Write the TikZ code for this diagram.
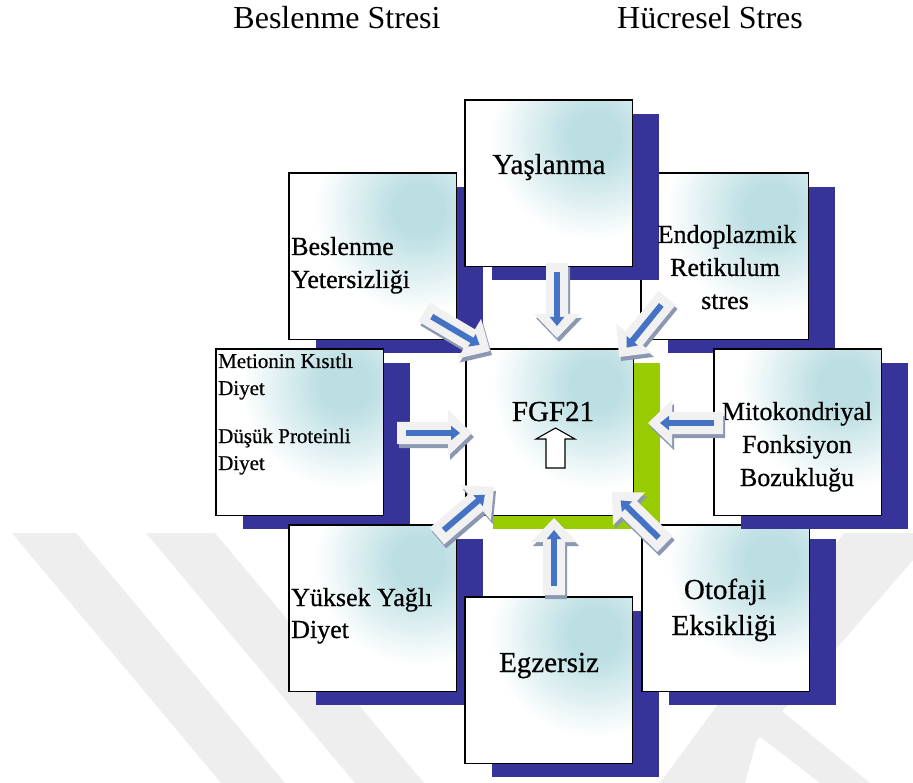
\documentclass[tikz,border=0pt]{standalone}
\usepackage{fontspec}
\setmainfont{Liberation Serif}
\newfontfamily\boxfont[FakeBold=0.6]{Liberation Serif}
\usetikzlibrary{calc,arrows.meta}
\definecolor{shadowblue}{RGB}{54,51,153}
\definecolor{fgfgreen}{RGB}{153,204,0}
\definecolor{boxcyan}{RGB}{188,223,227}
\definecolor{arrowblue}{RGB}{68,114,196}
\definecolor{arrowfill}{RGB}{241,241,241}
\definecolor{arrowshadow}{RGB}{140,152,178}
\definecolor{wmark}{RGB}{238,238,238}
\newcommand\shbox[3]{%
  \fill[#3] ($(#2)+(27,14)$) rectangle ++(167,166);
  \node[gboxn] (#1) at (#2) {};
  \begin{scope}
    \clip (#1.north west) rectangle (#1.south east);
    \fill[white] (#1.north west) rectangle (#1.south east);
    \coordinate (gc) at ($(#1.north west)+(130,37)$);
    \foreach \k in {0,...,30}{%
      \pgfmathsetmacro\rr{105-\k*2.6}%
      \pgfmathtruncatemacro\pp{\k*100/30}%
      \fill[boxcyan!\pp!white] (gc) circle[radius=\rr pt];
    }
  \end{scope}
  \draw[black, line width=1.5pt] (#1.north west) rectangle (#1.south east);
}
\newcommand\barrow[2]{%
  \coordinate (h) at ($(#2)!24pt!(#1)$);
  \coordinate (p1) at ($(#1)!11pt!90:(#2)$);
  \coordinate (p7) at ($(#1)!11pt!-90:(#2)$);
  \coordinate (p2) at ($(h)!11pt!90:(#2)$);
  \coordinate (p3) at ($(h)!23pt!90:(#2)$);
  \coordinate (p5) at ($(h)!23pt!-90:(#2)$);
  \coordinate (p6) at ($(h)!11pt!-90:(#2)$);
  \begin{scope}[transform canvas={shift={(2pt,-4pt)}}]
    \fill[arrowshadow] (p1) -- (p2) -- (p3) -- (#2) -- (p5) -- (p6) -- (p7) -- cycle;
  \end{scope}
  \fill[arrowfill] (p1) -- (p2) -- (p3) -- (#2) -- (p5) -- (p6) -- (p7) -- cycle;
  \draw[arrowblue, line width=6pt, -{Triangle[width=14pt,length=9pt]}]
    ($(#1)!9pt!(#2)$) -- ($(#2)!12pt!(#1)$);
}
\begin{document}
\begin{tikzpicture}[x=1pt,y=-1pt,
  gboxn/.style={rectangle, minimum width=167pt, minimum height=166pt,
    anchor=north west, inner sep=0pt},
  t21/.style={font=\boxfont\fontsize{21}{25}\selectfont, inner sep=0pt},
  t26/.style={font=\boxfont\fontsize{26}{30}\selectfont, inner sep=0pt},
  t29/.style={font=\boxfont\fontsize{29}{33}\selectfont, inner sep=0pt},
  t32/.style={font=\fontsize{32}{36}\selectfont, inner sep=0pt}]
\useasboundingbox (0,0) rectangle (913,783);
\fill[white] (0,0) rectangle (913,783);
% watermark
\fill[wmark] (12,533) -- (76,533) -- (285,783) -- (221,783) -- cycle;
\fill[wmark] (146,533) -- (215,533) -- (424,783) -- (355,783) -- cycle;
\fill[wmark] (844,533) -- (913,533) -- (913,560) -- (720,783) -- (660,783) -- cycle;
\fill[wmark] (700,783) -- (738,708) -- (778,708) -- (870,783) -- (820,783) -- (758,735) -- (745,783) -- cycle;
% boxes
\shbox{bes}{289,173}{shadowblue}
\shbox{fgf}{466,349}{fgfgreen}
\draw[black, line width=1.1pt, fill=white] (546,468) -- (546,439) -- (536,439) -- (555.5,428) -- (575,439) -- (565,439) -- (565,468) -- cycle;
\shbox{met}{216,349}{shadowblue}
\shbox{yuk}{289,525}{shadowblue}
\shbox{egz}{465,597}{shadowblue}
\shbox{oto}{642,525}{shadowblue}
\shbox{end}{641,173}{shadowblue}
\shbox{mit}{714,349}{shadowblue}
\shbox{yas}{465,100}{shadowblue}
% texts
\node[t32, anchor=base] (t1) at (337,29) {Beslenme Stresi};
\node[t32, anchor=base] (t2) at (710,29) {Hücresel Stres};
\node[t26, anchor=base west] (bes1) at (291,255) {Beslenme};
\node[t26, anchor=base west] (bes2) at (291,288) {Yetersizliği};
\node[t29, anchor=base] (fgf1) at (553,421) {FGF21};
\node[t21, anchor=base west] (met1) at (218,368) {Metionin Kısıtlı};
\node[t21, anchor=base west] (met2) at (218,395) {Diyet};
\node[t21, anchor=base west] (met3) at (218,443) {Düşük Proteinli};
\node[t21, anchor=base west] (met4) at (218,470) {Diyet};
\node[t26, anchor=base west] (yuk1) at (291,606) {Yüksek Yağlı};
\node[t26, anchor=base west] (yuk2) at (291,638) {Diyet};
\node[t29, anchor=base] (egz1) at (549,672) {Egzersiz};
\node[t29, anchor=base] (oto1) at (725,599) {Otofaji};
\node[t29, anchor=base] (oto2) at (724,635) {Eksikliği};
\node[t26, anchor=base] (end1) at (727,243) {Endoplazmik};
\node[t26, anchor=base] (end2) at (725,276) {Retikulum};
\node[t26, anchor=base] (end3) at (725,309) {stres};
\node[t26, anchor=base] (mit1) at (797,420) {Mitokondriyal};
\node[t26, anchor=base] (mit2) at (797,453) {Fonksiyon};
\node[t26, anchor=base] (mit3) at (797,486) {Bozukluğu};
\node[t29, anchor=base] (yas1) at (549,174) {Yaşlanma};
% arrows
\coordinate (a1s) at (424,312); \coordinate (a1e) at (490,351);
\coordinate (a2s) at (557,263); \coordinate (a2e) at (557,338);
\coordinate (a3s) at (667,298); \coordinate (a3e) at (619,357);
\coordinate (a4s) at (397,433); \coordinate (a4e) at (472,433);
\coordinate (a5s) at (723,423); \coordinate (a5e) at (648,423);
\coordinate (a6s) at (437,536); \coordinate (a6e) at (494,487);
\coordinate (a7s) at (554,595); \coordinate (a7e) at (554,518);
\coordinate (a8s) at (665,544); \coordinate (a8e) at (612,492);
\barrow{a1s}{a1e}
\barrow{a2s}{a2e}
\barrow{a3s}{a3e}
\barrow{a4s}{a4e}
\barrow{a5s}{a5e}
\barrow{a6s}{a6e}
\barrow{a7s}{a7e}
\barrow{a8s}{a8e}
\end{tikzpicture}
\end{document}
